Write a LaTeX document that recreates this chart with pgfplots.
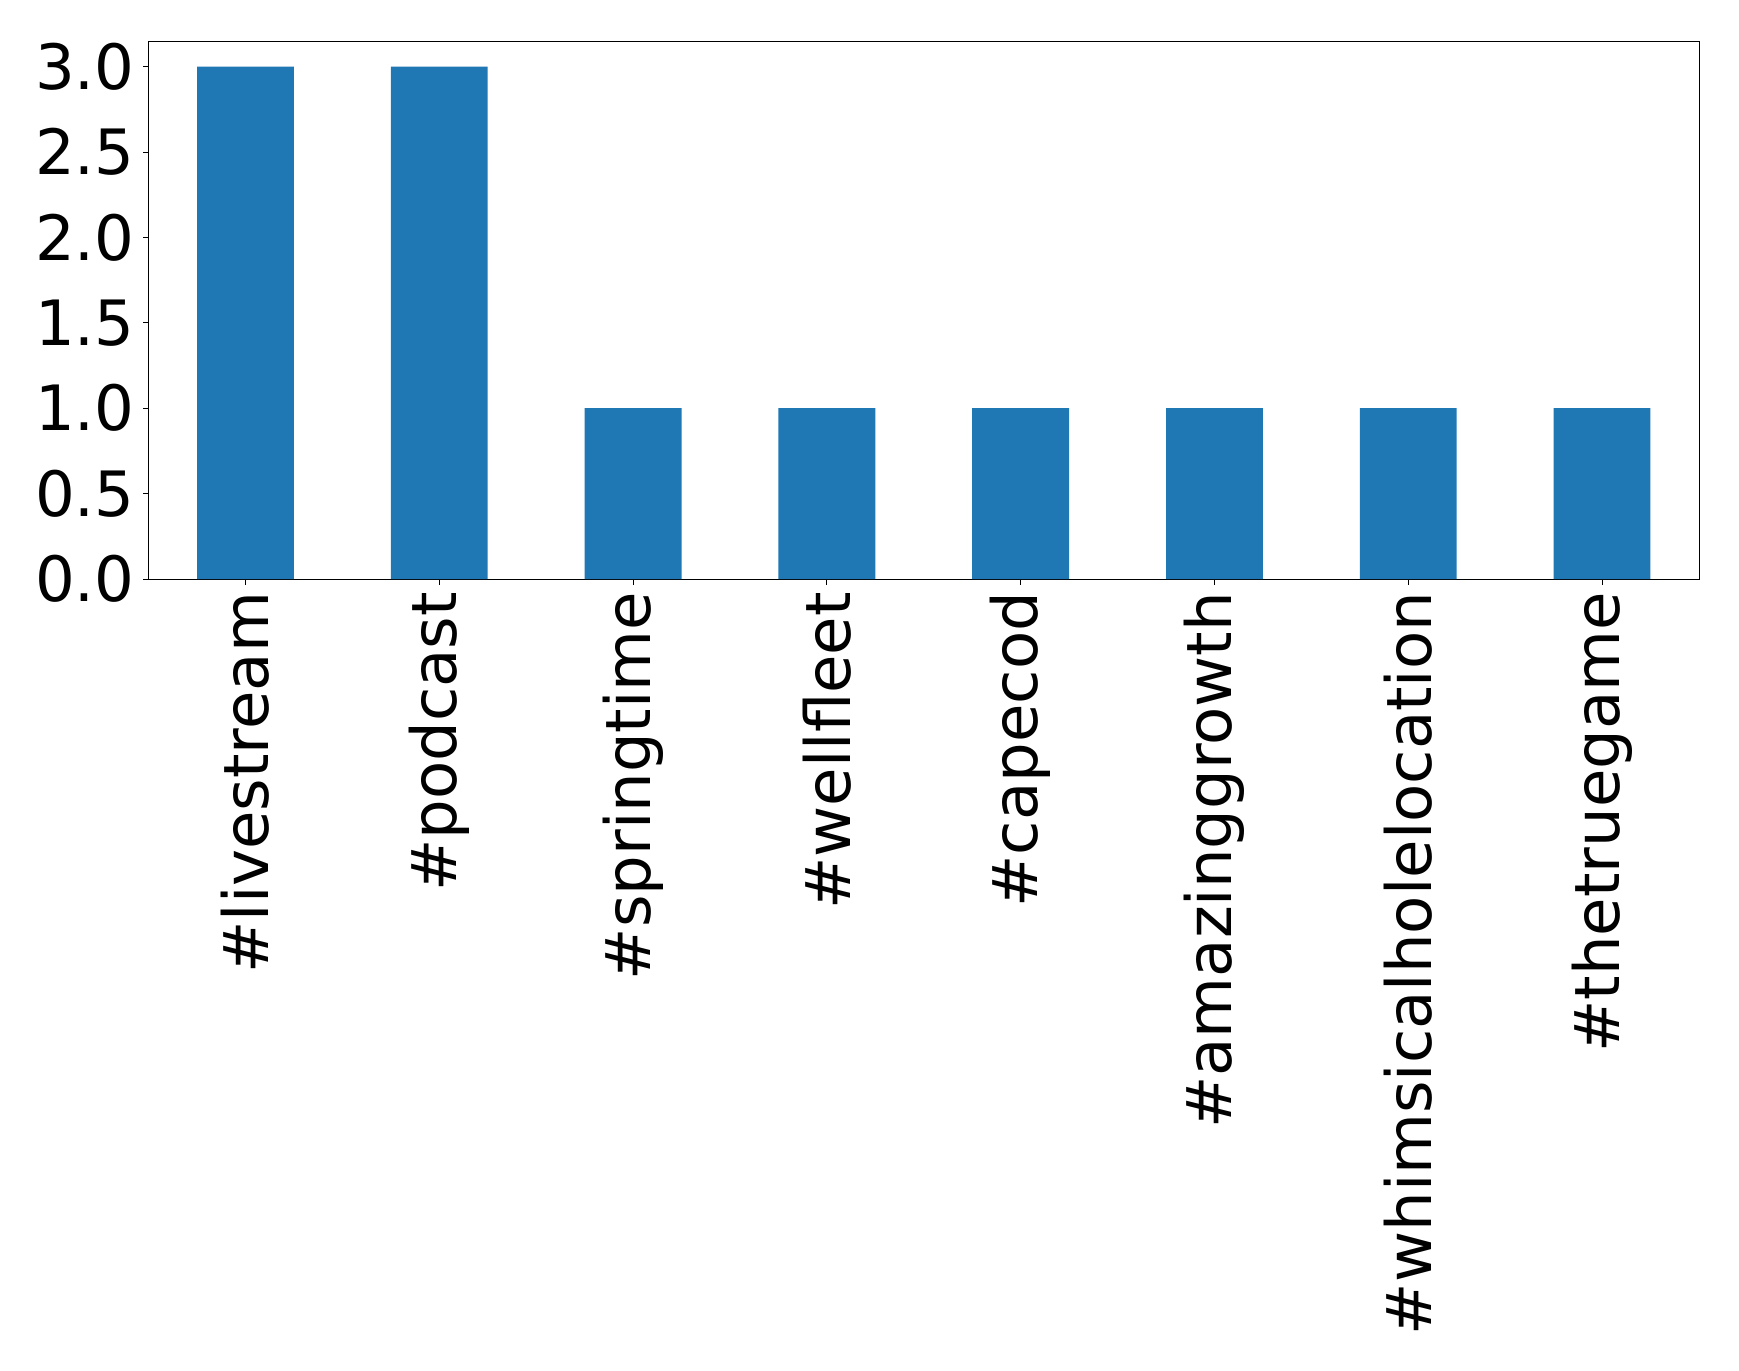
\documentclass[border=0pt]{standalone}
\usepackage{pgfplots}
\pgfplotsset{compat=1.18}
\usepackage{fontspec}
\setmainfont{DejaVu Sans}
\definecolor{mplblue}{HTML}{1F77B4}
\begin{document}
\begin{tikzpicture}
\begin{axis}[
  name=ax,
  scale only axis,
  width=1116.3pt, height=387.4pt,
  xmin=-0.5, xmax=7.5, ymin=0, ymax=3.15,
  ybar, bar width=0.5,
  xtick={0,1,2,3,4,5,6,7},
  xticklabels={\#livestream,\#podcast,\#springtime,\#wellfleet,\#capecod,\#amazinggrowth,\#whimsicalholelocation,\#thetruegame},
  ytick={0,0.5,1,1.5,2,2.5,3},
  yticklabels={0.0,0.5,1.0,1.5,2.0,2.5,3.0},
  tick label style={font=\fontsize{45}{54}\selectfont},
  xticklabel style={rotate=90, anchor=east, inner sep=0pt, xshift=-5.2pt},
  yticklabel style={inner sep=0pt, xshift=-6pt},
  tick align=outside,
  xtick pos=bottom, ytick pos=left,
  major tick length=4pt,
  tick style={black, line width=0.6pt},
  axis line style={black, line width=0.6pt},
]
\addplot[fill=mplblue, draw=none] coordinates {(0,3) (1,3) (2,1) (3,1) (4,1) (5,1) (6,1) (7,1)};
\end{axis}
\path[use as bounding box] (ax.south west) ++(-107pt,-570.24pt) rectangle ++(1252.08pt,987.12pt);
\end{tikzpicture}
\end{document}
